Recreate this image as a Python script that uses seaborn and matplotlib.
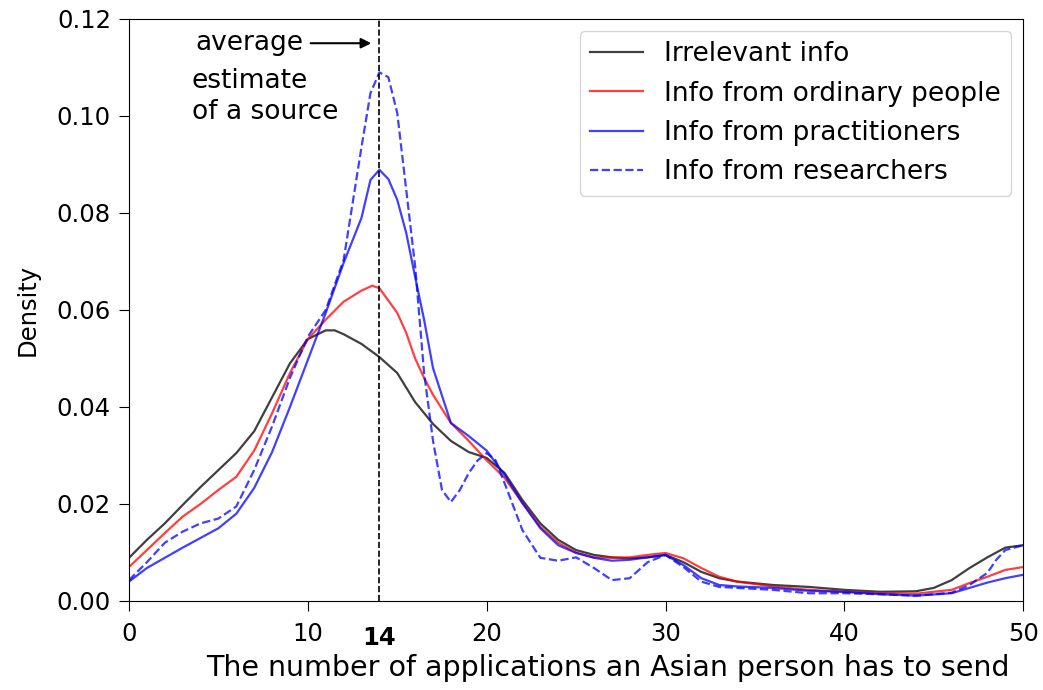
import pandas as pd
import matplotlib
matplotlib.use("Agg")
import matplotlib.pyplot as plt
import matplotlib.transforms as mtransforms
import seaborn as sns

# curves (density of estimates per source)
irrelevant_x = [0, 1, 2, 3, 4, 5, 6, 7, 8, 9, 10, 11, 11.5, 12, 13, 14, 15, 16, 17, 18, 19, 20,
                21, 22, 23, 24, 25, 26, 27, 28, 29, 30, 31, 32, 33, 34, 36, 38, 40, 42, 44,
                45, 46, 47, 48, 49, 50]
irrelevant_y = [0.0089, 0.0126, 0.016, 0.0198, 0.0235, 0.027, 0.0305, 0.035, 0.042, 0.049,
                0.054, 0.0558, 0.0558, 0.055, 0.053, 0.0503, 0.047, 0.041, 0.0365, 0.033,
                0.0307, 0.0295, 0.0264, 0.0208, 0.016, 0.0126, 0.0105, 0.0095, 0.009, 0.0088,
                0.009, 0.0095, 0.008, 0.006, 0.0047, 0.004, 0.0033, 0.0029, 0.0023, 0.0019,
                0.002, 0.0027, 0.0043, 0.0068, 0.009, 0.011, 0.0115]

ordinary_x = [0, 1, 2, 3, 4, 5, 6, 7, 8, 9, 10, 11, 12, 13, 13.6, 14, 15, 15.5, 16, 16.5, 17,
              18, 19, 20, 21, 22, 23, 24, 25, 26, 27, 28, 29, 30, 31, 32, 33, 34, 36, 38, 40,
              42, 44, 46, 47, 48, 49, 50]
ordinary_y = [0.007, 0.0105, 0.014, 0.0174, 0.020, 0.0229, 0.0256, 0.031, 0.0387, 0.047,
              0.054, 0.058, 0.0617, 0.064, 0.065, 0.0645, 0.0594, 0.0553, 0.050, 0.046,
              0.0425, 0.0367, 0.033, 0.029, 0.0254, 0.0202, 0.0153, 0.012, 0.010, 0.009,
              0.0089, 0.009, 0.0095, 0.0099, 0.0088, 0.0068, 0.005, 0.004, 0.003, 0.0023,
              0.0019, 0.0016, 0.0015, 0.0023, 0.0037, 0.005, 0.0064, 0.007]

practitioners_x = [0, 1, 2, 3, 4, 5, 6, 7, 8, 9, 10, 11, 12, 13, 13.5, 14, 14.5, 15, 15.5, 16,
                   16.5, 17, 18, 19, 20, 21, 22, 23, 24, 25, 26, 27, 28, 29, 30, 31, 32, 33,
                   34, 36, 38, 40, 42, 44, 46, 47, 48, 49, 50]
practitioners_y = [0.004, 0.0068, 0.0089, 0.011, 0.013, 0.015, 0.018, 0.0233, 0.0307, 0.040,
                   0.0497, 0.0594, 0.0697, 0.079, 0.0868, 0.0889, 0.087, 0.0827, 0.0759,
                   0.0668, 0.058, 0.048, 0.0367, 0.034, 0.031, 0.026, 0.0202, 0.015, 0.0115,
                   0.0099, 0.0089, 0.0083, 0.0085, 0.009, 0.0095, 0.0074, 0.0047, 0.0033,
                   0.003, 0.0027, 0.0021, 0.0019, 0.0014, 0.0011, 0.0016, 0.0027, 0.0038,
                   0.0047, 0.0054]

researchers_x = [0, 1, 2, 3, 4, 5, 6, 7, 8, 9, 10, 11, 12, 13, 13.5, 14, 14.5, 15, 16, 16.5,
                 17, 17.5, 18, 18.5, 19, 19.5, 20, 20.5, 21, 22, 23, 24, 25, 26, 27, 28, 29,
                 30, 31, 32, 33, 34, 36, 38, 40, 42, 44, 46, 47, 48, 48.5, 49, 50]
researchers_y = [0.0043, 0.008, 0.012, 0.0143, 0.016, 0.017, 0.0195, 0.027, 0.036, 0.046,
                 0.0545, 0.060, 0.0703, 0.0936, 0.1047, 0.109, 0.108, 0.1006, 0.069, 0.047,
                 0.033, 0.0229, 0.0204, 0.0229, 0.0264, 0.029, 0.0305, 0.029, 0.0243,
                 0.0146, 0.0089, 0.0083, 0.009, 0.0068, 0.0043, 0.0047, 0.008, 0.0095,
                 0.007, 0.004, 0.0029, 0.0027, 0.0023, 0.0016, 0.0016, 0.0014, 0.0011,
                 0.0017, 0.0033, 0.0058, 0.0085, 0.0105, 0.0115]

average_estimate = 14
x_ticks = [0, 10, 20, 30, 40, 50]
y_ticks = [0.00, 0.02, 0.04, 0.06, 0.08, 0.10, 0.12]

series = [
    ("Irrelevant info", irrelevant_x, irrelevant_y, "black", "-"),
    ("Info from ordinary people", ordinary_x, ordinary_y, "red", "-"),
    ("Info from practitioners", practitioners_x, practitioners_y, "blue", "-"),
    ("Info from researchers", researchers_x, researchers_y, "blue", "--"),
]

fig, ax = plt.subplots(figsize=(10.43, 6.9), dpi=100)
fig.subplots_adjust(left=0.1237, right=0.981, top=0.9725, bottom=0.129)

for label, xs, ys, color, ls in series:
    df = pd.DataFrame({"x": xs, "y": ys})
    sns.lineplot(data=df, x="x", y="y", ax=ax, color=color, linestyle=ls,
                 alpha=0.75, linewidth=1.6, label=label)

ax.axvline(average_estimate, color="black", linestyle="--", linewidth=1.2)
ax.annotate("", xy=(13.7, 0.115), xytext=(10.0, 0.115),
            arrowprops=dict(arrowstyle="-|>", color="black", lw=1.5, mutation_scale=15))
ax.text(3.7, 0.115, "average", fontsize=19, va="center", ha="left")
ax.text(3.5, 0.1041, "estimate\nof a source", fontsize=19, va="center", ha="left",
        linespacing=1.25)

# bold label for the average under the axis
trans = mtransforms.blended_transform_factory(ax.transData, ax.transAxes)
ax.text(average_estimate, -0.063, str(average_estimate), transform=trans,
        fontsize=17.5, fontweight="bold", ha="center", va="center")

ax.set_xlim(0, 50)
ax.set_ylim(0, 0.12)
ax.set_xticks(x_ticks)
ax.set_xticklabels([str(t) for t in x_ticks])
ax.set_yticks(y_ticks)
ax.set_yticklabels([f"{t:.2f}" for t in y_ticks])
ax.tick_params(labelsize=17.5, length=7)
ax.tick_params(axis="x", pad=8)
ax.tick_params(axis="y", pad=6)

ax.set_xlabel("The number of applications an Asian person has to send", fontsize=20.5,
              labelpad=6, x=0.536)
ax.set_ylabel("Density", fontsize=17.5, labelpad=12)
ax.legend(loc="upper right", fontsize=19, borderaxespad=0.45)

plt.savefig("out.png", dpi=100)
